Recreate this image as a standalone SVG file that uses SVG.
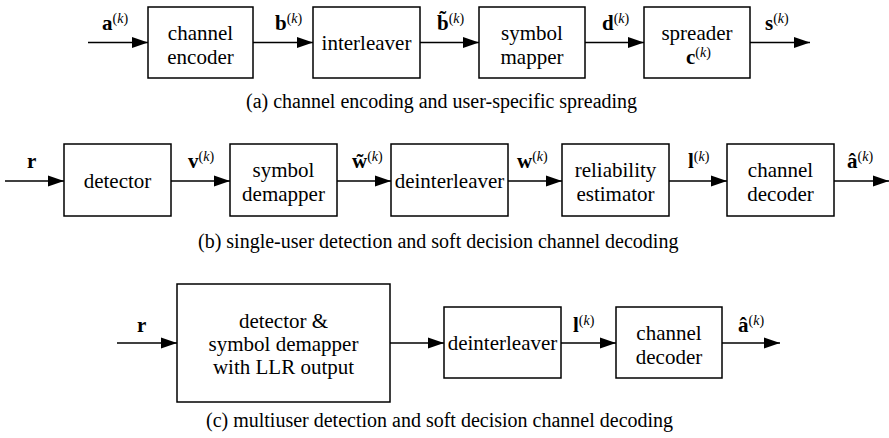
<svg xmlns="http://www.w3.org/2000/svg" width="889" height="438" viewBox="0 0 889 438">
<style>
.box{fill:#fff;stroke:#000;stroke-width:1.5}
.ln{fill:none;stroke:#000;stroke-width:1.3;marker-end:url(#ah)}
.t{font-family:'Liberation Serif','Times New Roman',Times,'DejaVu Serif',serif;font-size:21px;fill:#000;text-anchor:middle}
.cap{font-family:'Liberation Serif','Times New Roman',Times,'DejaVu Serif',serif;font-size:20px;fill:#000}
.lbl{font-family:'Liberation Serif','Times New Roman',Times,'DejaVu Serif',serif;font-size:21px;font-weight:bold;fill:#000}
.sup{font-size:14px;font-weight:normal}
.it{font-style:italic}
</style>
<defs>
<marker id="ah" markerUnits="userSpaceOnUse" markerWidth="16" markerHeight="12" refX="16" refY="6" orient="auto">
<path d="M0,0.5 L16,6 L0,11.5 z" fill="#000"/>
</marker>
</defs>

<g id="connectors">
<line class="ln" x1="88" y1="42.5" x2="148" y2="42.5"/>
<line class="ln" x1="253" y1="42.5" x2="313" y2="42.5"/>
<line class="ln" x1="420" y1="42.5" x2="479" y2="42.5"/>
<line class="ln" x1="585" y1="42.5" x2="644" y2="42.5"/>
<line class="ln" x1="750" y1="42.5" x2="810" y2="42.5"/>

<line class="ln" x1="5" y1="181" x2="64" y2="181"/>
<line class="ln" x1="171" y1="181" x2="230" y2="181"/>
<line class="ln" x1="337" y1="181" x2="391" y2="181"/>
<line class="ln" x1="508" y1="181" x2="562" y2="181"/>
<line class="ln" x1="669" y1="181" x2="727" y2="181"/>
<line class="ln" x1="834" y1="181" x2="889" y2="181"/>

<line class="ln" x1="117" y1="343" x2="177" y2="343"/>
<line class="ln" x1="390" y1="343" x2="444" y2="343"/>
<line class="ln" x1="561" y1="343" x2="616" y2="343"/>
<line class="ln" x1="722" y1="343" x2="780" y2="343"/>
</g>

<g id="labels">
<text class="lbl" x="102" y="30">a<tspan class="sup" dy="-7">(<tspan class="it">k</tspan>)</tspan></text>
<text class="lbl" x="275" y="30">b<tspan class="sup" dy="-7">(<tspan class="it">k</tspan>)</tspan></text>
<text class="lbl" x="437" y="30">b̃<tspan class="sup" dy="-7">(<tspan class="it">k</tspan>)</tspan></text>
<text class="lbl" x="602" y="30">d<tspan class="sup" dy="-7">(<tspan class="it">k</tspan>)</tspan></text>
<text class="lbl" x="765" y="30">s<tspan class="sup" dy="-7">(<tspan class="it">k</tspan>)</tspan></text>

<text class="lbl" x="27" y="168">r</text>
<text class="lbl" x="188" y="168">v<tspan class="sup" dy="-7">(<tspan class="it">k</tspan>)</tspan></text>
<text class="lbl" x="352" y="168">w̃<tspan class="sup" dy="-7">(<tspan class="it">k</tspan>)</tspan></text>
<text class="lbl" x="517" y="168">w<tspan class="sup" dy="-7">(<tspan class="it">k</tspan>)</tspan></text>
<text class="lbl" x="688" y="168">l<tspan class="sup" dy="-7">(<tspan class="it">k</tspan>)</tspan></text>
<text class="lbl" x="847" y="168">â<tspan class="sup" dy="-7">(<tspan class="it">k</tspan>)</tspan></text>

<text class="lbl" x="137" y="332">r</text>
<text class="lbl" x="573" y="332">l<tspan class="sup" dy="-7">(<tspan class="it">k</tspan>)</tspan></text>
<text class="lbl" x="738" y="332">â<tspan class="sup" dy="-7">(<tspan class="it">k</tspan>)</tspan></text>
</g>

<g id="channel-encoder"><rect class="box" x="148" y="7" width="105" height="71"/><text class="t" x="200.5" y="39.5">channel</text><text class="t" x="200.5" y="63.5">encoder</text></g>
<g id="interleaver"><rect class="box" x="313" y="7" width="107" height="71"/><text class="t" x="366.5" y="50">interleaver</text></g>
<g id="symbol-mapper"><rect class="box" x="479" y="7" width="106" height="71"/><text class="t" x="532" y="39.5">symbol</text><text class="t" x="532" y="63.5">mapper</text></g>
<g id="spreader"><rect class="box" x="644" y="7" width="106" height="71"/><text class="t" x="697" y="39.5">spreader</text><text class="lbl" x="686" y="63.5">c<tspan class="sup" dy="-7">(<tspan class="it">k</tspan>)</tspan></text></g>

<g id="detector"><rect class="box" x="64" y="144" width="107" height="72"/><text class="t" x="117.5" y="188">detector</text></g>
<g id="symbol-demapper"><rect class="box" x="230" y="144" width="107" height="72"/><text class="t" x="283.5" y="177">symbol</text><text class="t" x="283.5" y="201">demapper</text></g>
<g id="deinterleaver-b"><rect class="box" x="391" y="144" width="117" height="72"/><text class="t" x="449.5" y="188">deinterleaver</text></g>
<g id="reliability-estimator"><rect class="box" x="562" y="144" width="107" height="72"/><text class="t" x="615.5" y="177">reliability</text><text class="t" x="615.5" y="201">estimator</text></g>
<g id="channel-decoder-b"><rect class="box" x="727" y="144" width="107" height="72"/><text class="t" x="780.5" y="177">channel</text><text class="t" x="780.5" y="201">decoder</text></g>

<g id="detector-demapper-llr"><rect class="box" x="177" y="284" width="213" height="118"/><text class="t" x="283.5" y="328">detector &amp;</text><text class="t" x="283.5" y="351">symbol demapper</text><text class="t" x="283.5" y="374">with LLR output</text></g>
<g id="deinterleaver-c"><rect class="box" x="444" y="307" width="117" height="71"/><text class="t" x="502.5" y="350">deinterleaver</text></g>
<g id="channel-decoder-c"><rect class="box" x="616" y="307" width="106" height="71"/><text class="t" x="669" y="339.5">channel</text><text class="t" x="669" y="363.5">decoder</text></g>

<g id="captions">
<text class="cap" x="246" y="108">(a) channel encoding and user-specific spreading</text>
<text class="cap" x="198" y="248">(b) single-user detection and soft decision channel decoding</text>
<text class="cap" x="206" y="427">(c) multiuser detection and soft decision channel decoding</text>
</g>
</svg>
